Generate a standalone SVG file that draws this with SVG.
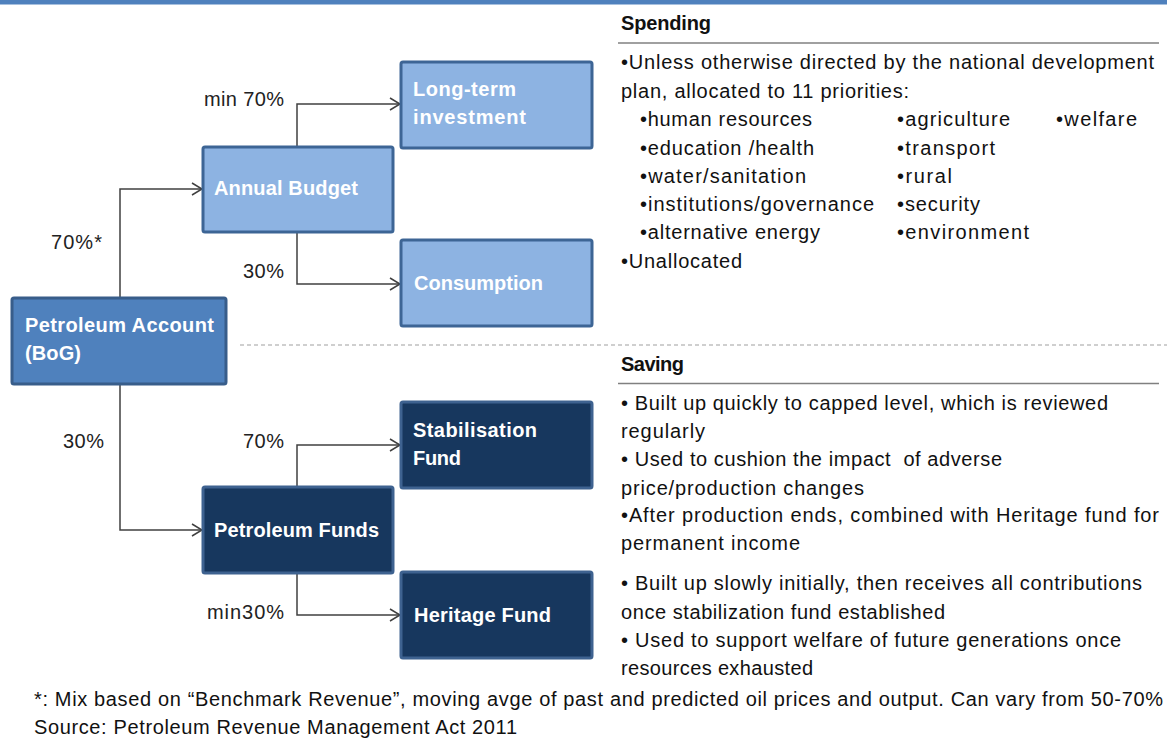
<svg xmlns="http://www.w3.org/2000/svg" width="1167" height="738" viewBox="0 0 1167 738">
<style>
  text { font-family: "Liberation Sans", Arial, sans-serif; white-space: pre; }
  .nl { fill: #8db3e2; stroke: #3d6595; stroke-width: 3; }
  .nm { fill: #4f81bd; stroke: #385d8a; stroke-width: 3; }
  .nd { fill: #17375e; stroke: #3e6290; stroke-width: 3; }
  .nt { fill: #ffffff; font-size: 20px; font-weight: bold; }
  .lb { fill: #222222; font-size: 20px; }
  .tx { fill: #111111; font-size: 20px; }
  .hd { fill: #111111; font-size: 20px; font-weight: bold; }
  .cn { fill: none; stroke: #404040; stroke-width: 1.5; marker-end: url(#arr); }
</style>
<defs>
  <marker id="arr" markerUnits="userSpaceOnUse" markerWidth="14" markerHeight="14" refX="11" refY="7" orient="auto">
    <path d="M1,1 L11,7 L1,13" fill="none" stroke="#404040" stroke-width="1.5"/>
  </marker>
</defs>
<rect x="0" y="0" width="1167" height="4" fill="#4f81bd"/>
<rect x="0" y="4" width="1167" height="1" fill="#a7c0de"/>

<g id="connectors">
  <path class="cn" d="M120 298 V189 H202"/>
  <path class="cn" d="M120 384 V530 H202"/>
  <path class="cn" d="M297 146 V104 H400"/>
  <path class="cn" d="M297 232 V284 H400"/>
  <path class="cn" d="M297 487 V445 H400"/>
  <path class="cn" d="M297 573 V615 H400"/>
  <text class="lb" x="204" y="106" textLength="80">min 70%</text>
  <text class="lb" x="51" y="249" textLength="51">70%*</text>
  <text class="lb" x="243" y="278" textLength="41">30%</text>
  <text class="lb" x="63" y="448" textLength="41">30%</text>
  <text class="lb" x="243" y="448" textLength="41">70%</text>
  <text class="lb" x="207" y="619" textLength="77">min30%</text>
</g>

<g id="node-longterm">
  <rect class="nl" x="401" y="62" width="191" height="86" rx="2"/>
  <text class="nt" x="413" y="96" textLength="103">Long-term</text>
  <text class="nt" x="413" y="124" textLength="113">investment</text>
</g>
<g id="node-annual">
  <rect class="nl" x="203" y="147" width="190" height="85" rx="2"/>
  <text class="nt" x="214" y="195" textLength="144">Annual Budget</text>
</g>
<g id="node-consumption">
  <rect class="nl" x="401" y="240" width="191" height="86" rx="2"/>
  <text class="nt" x="414" y="290" textLength="129">Consumption</text>
</g>
<g id="node-petroleum-account">
  <rect class="nm" x="12" y="298" width="214" height="86" rx="2"/>
  <text class="nt" x="25" y="332" textLength="189">Petroleum Account</text>
  <text class="nt" x="25" y="360" textLength="56">(BoG)</text>
</g>
<g id="node-stabilisation">
  <rect class="nd" x="401" y="402" width="191" height="86" rx="2"/>
  <text class="nt" x="413" y="437" textLength="124">Stabilisation</text>
  <text class="nt" x="413" y="465" textLength="48">Fund</text>
</g>
<g id="node-petroleum-funds">
  <rect class="nd" x="203" y="487" width="190" height="86" rx="2"/>
  <text class="nt" x="214" y="537" textLength="165">Petroleum Funds</text>
</g>
<g id="node-heritage">
  <rect class="nd" x="401" y="572" width="191" height="86" rx="2"/>
  <text class="nt" x="414" y="622" textLength="137">Heritage Fund</text>
</g>

<line x1="240" y1="345" x2="1167" y2="345" stroke="#a0a0a0" stroke-width="1.2" stroke-dasharray="4 3"/>

<g id="spending">
  <text class="hd" x="621" y="30" textLength="90">Spending</text>
  <line x1="618" y1="43" x2="1159" y2="43" stroke="#808080" stroke-width="1.5"/>
  <text class="tx" x="621" y="69" textLength="533">•Unless otherwise directed by the national development</text>
  <text class="tx" x="621" y="98" textLength="288">plan, allocated to 11 priorities:</text>
  <text class="tx" x="640" y="126" textLength="172">•human resources</text>
  <text class="tx" x="640" y="155" textLength="174">•education /health</text>
  <text class="tx" x="640" y="183" textLength="166">•water/sanitation</text>
  <text class="tx" x="640" y="211" textLength="234">•institutions/governance</text>
  <text class="tx" x="640" y="239" textLength="180">•alternative energy</text>
  <text class="tx" x="897" y="126" textLength="113">•agriculture</text>
  <text class="tx" x="897" y="155" textLength="98">•transport</text>
  <text class="tx" x="897" y="183" textLength="55">•rural</text>
  <text class="tx" x="897" y="211" textLength="83">•security</text>
  <text class="tx" x="897" y="239" textLength="132">•environment</text>
  <text class="tx" x="1056" y="126" textLength="81">•welfare</text>
  <text class="tx" x="621" y="268" textLength="121">•Unallocated</text>
</g>

<g id="saving">
  <text class="hd" x="621" y="371" textLength="63">Saving</text>
  <line x1="618" y1="383.5" x2="1159" y2="383.5" stroke="#808080" stroke-width="1.5"/>
  <text class="tx" x="621" y="410" textLength="487">• Built up quickly to capped level, which is reviewed</text>
  <text class="tx" x="621" y="438" textLength="84">regularly</text>
  <text class="tx" x="621" y="466" textLength="381">• Used to cushion the impact  of adverse</text>
  <text class="tx" x="621" y="495" textLength="243">price/production changes</text>
  <text class="tx" x="621" y="522" textLength="538">•After production ends, combined with Heritage fund for</text>
  <text class="tx" x="621" y="550" textLength="179">permanent income</text>
  <text class="tx" x="621" y="590" textLength="521">• Built up slowly initially, then receives all contributions</text>
  <text class="tx" x="621" y="619" textLength="324">once stabilization fund established</text>
  <text class="tx" x="621" y="647" textLength="500">• Used to support welfare of future generations once</text>
  <text class="tx" x="621" y="675" textLength="192">resources exhausted</text>
</g>

<g id="footer">
  <text class="tx" x="34" y="706" textLength="1129">*: Mix based on “Benchmark Revenue”, moving avge of past and predicted oil prices and output. Can vary from 50-70%</text>
  <text class="tx" x="34" y="734" textLength="483">Source: Petroleum Revenue Management Act 2011</text>
</g>
</svg>
